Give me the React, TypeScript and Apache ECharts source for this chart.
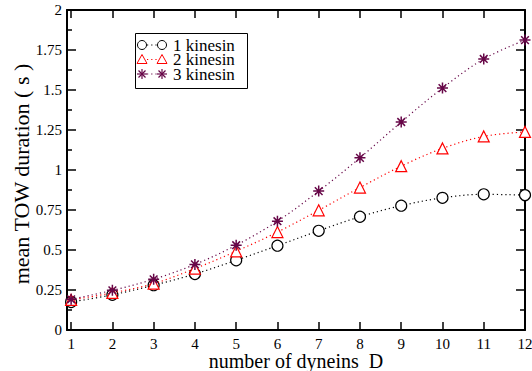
import React, { useEffect, useRef } from "react";
import * as echarts from "echarts";

const dyneins = [1, 2, 3, 4, 5, 6, 7, 8, 9, 10, 11, 12];
const kinesin1 = [0.175, 0.22, 0.28, 0.35, 0.436, 0.527, 0.62, 0.708, 0.777, 0.826, 0.848, 0.843];
const kinesin2 = [0.188, 0.232, 0.29, 0.384, 0.492, 0.612, 0.748, 0.89, 1.024, 1.135, 1.21, 1.238];
const kinesin3 = [0.192, 0.248, 0.317, 0.41, 0.53, 0.68, 0.868, 1.076, 1.3, 1.512, 1.694, 1.812];
const seriesNames = ["1 kinesin", "2 kinesin", "3 kinesin"];
const xTicks = [1, 2, 3, 4, 5, 6, 7, 8, 9, 10, 11, 12];
const xTitle = "number of dyneins  D";
const yTitle = "mean TOW duration ( s )";

const BLACK = "#000000";
const RED = "#ff0000";
const MAROON = "#670748";
const FONT = "'Liberation Serif', 'DejaVu Serif', serif";
const STAR = "path://M0 5 L10 5 M5 0 L5 10 M1.5 1.5 L8.5 8.5 M1.5 8.5 L8.5 1.5";

export default function App() {
  const ref = useRef<HTMLDivElement>(null);
  useEffect(() => {
    if (!ref.current) return;
    const chart = echarts.init(ref.current, null, { renderer: "svg" });
    const mk = (data: number[]) => dyneins.map((d, i) => [d, data[i]]);
    const lineStyle = (c: string) => ({ color: c, width: 1.2, type: [1.2, 3] as any });
    const axisCommon = {
      axisLine: { show: true, onZero: false, lineStyle: { color: "#000", width: 2 } },
      splitLine: { show: false },
    };
    // legend graphics
    const rows = [45, 59.5, 74];
    const sx1 = 142, sx2 = 162;
    const legendChildren: any[] = [
      { type: "rect", shape: { x: 135.5, y: 33.5, width: 112, height: 55 }, style: { fill: "#fff", stroke: "#000", lineWidth: 1 } },
    ];
    const symbolAt = (k: number, x: number, y: number) => {
      if (k === 0) return { type: "circle", shape: { cx: x, cy: y, r: 4.5 }, style: { fill: "none", stroke: BLACK, lineWidth: 1 } };
      if (k === 1)
        return {
          type: "polygon",
          shape: { points: [[x, y - 5], [x + 5, y + 4], [x - 5, y + 4]] },
          style: { fill: "none", stroke: RED, lineWidth: 1 },
        };
      return {
        type: "group",
        children: [
          { type: "line", shape: { x1: x - 5, y1: y, x2: x + 5, y2: y }, style: { stroke: MAROON, lineWidth: 1.2 } },
          { type: "line", shape: { x1: x, y1: y - 5, x2: x, y2: y + 5 }, style: { stroke: MAROON, lineWidth: 1.2 } },
          { type: "line", shape: { x1: x - 3.5, y1: y - 3.5, x2: x + 3.5, y2: y + 3.5 }, style: { stroke: MAROON, lineWidth: 1.2 } },
          { type: "line", shape: { x1: x - 3.5, y1: y + 3.5, x2: x + 3.5, y2: y - 3.5 }, style: { stroke: MAROON, lineWidth: 1.2 } },
        ],
      };
    };
    const cols = [BLACK, RED, MAROON];
    rows.forEach((y, k) => {
      legendChildren.push({
        type: "line",
        shape: { x1: sx1 + 5, y1: y, x2: sx2 - 5, y2: y },
        style: { stroke: cols[k], lineWidth: 1.2, lineDash: [1.2, 3] },
      });
      legendChildren.push(symbolAt(k, sx1, y));
      legendChildren.push(symbolAt(k, sx2, y));
      legendChildren.push({
        type: "text",
        x: 173,
        y: y,
        style: { text: seriesNames[k], fill: "#000", font: `17px ${FONT}`, lineHeight: 14, verticalAlign: "middle", align: "left" },
      });
    });

    chart.setOption({
      animation: false,
      backgroundColor: "#fff",
      textStyle: { fontFamily: FONT },
      grid: { left: 67, right: 7, top: 10, bottom: 41, containLabel: false, outerBoundsMode: "none" } as any,
      xAxis: [
        {
          type: "value",
          min: 0.9,
          max: 12,
          position: "bottom",
          ...axisCommon,
          axisTick: { show: true, inside: true, length: 8, customValues: xTicks, lineStyle: { color: "#000", width: 1.5 } },
          axisLabel: { show: true, customValues: xTicks, margin: 6, fontFamily: FONT, fontSize: 15, color: "#000" },
          minorTick: { show: false },
        },
        {
          type: "value",
          min: 0.9,
          max: 12,
          position: "top",
          ...axisCommon,
          axisTick: { show: true, inside: true, length: 8, customValues: xTicks, lineStyle: { color: "#000", width: 1.5 } },
          axisLabel: { show: false },
        },
      ],
      yAxis: [
        {
          type: "value",
          min: 0,
          max: 2,
          interval: 0.25,
          position: "left",
          ...axisCommon,
          axisTick: { show: true, inside: true, length: 9, lineStyle: { color: "#000", width: 1.5 } },
          minorTick: { show: true, splitNumber: 2, length: 5, lineStyle: { color: "#000", width: 1.5 } },
          axisLabel: { show: true, margin: 5, fontFamily: FONT, fontSize: 15, color: "#000" },
        },
        {
          type: "value",
          min: 0,
          max: 2,
          interval: 0.25,
          position: "right",
          ...axisCommon,
          axisTick: { show: true, inside: true, length: 9, lineStyle: { color: "#000", width: 1.5 } },
          minorTick: { show: true, splitNumber: 2, length: 5, lineStyle: { color: "#000", width: 1.5 } },
          axisLabel: { show: false },
        },
      ],
      series: [
        {
          name: seriesNames[0],
          type: "line",
          data: mk(kinesin1),
          smooth: 0.35,
          symbol: "circle",
          symbolSize: 11,
          itemStyle: { color: "#fff", borderColor: BLACK, borderWidth: 1.2 },
          lineStyle: lineStyle(BLACK),
          z: 3,
        },
        {
          name: seriesNames[1],
          type: "line",
          data: mk(kinesin2),
          smooth: 0.35,
          symbol: "triangle",
          symbolSize: 11,
          itemStyle: { color: "#fff", borderColor: RED, borderWidth: 1.2 },
          lineStyle: lineStyle(RED),
          z: 4,
        },
        {
          name: seriesNames[2],
          type: "line",
          data: mk(kinesin3),
          smooth: 0.35,
          symbol: STAR,
          symbolSize: 11,
          itemStyle: { color: "none", borderColor: MAROON, borderWidth: 1.5 },
          lineStyle: lineStyle(MAROON),
          z: 5,
        },
      ],
      graphic: [
        { type: "group", children: legendChildren, z: 100 },
        {
          type: "text",
          x: 296,
          y: 361,
          style: { text: xTitle, fill: "#000", font: `20px ${FONT}`, align: "center", verticalAlign: "middle" },
        },
        {
          type: "text",
          x: 21,
          y: 174,
          rotation: Math.PI / 2,
          style: { text: yTitle, fill: "#000", font: `22px ${FONT}`, align: "center", verticalAlign: "middle" },
        },
      ],
    });
    return () => chart.dispose();
  }, []);
  return <div ref={ref} style={{ width: 532, height: 371, position: "absolute", left: 0, top: 0 }} />;
}
